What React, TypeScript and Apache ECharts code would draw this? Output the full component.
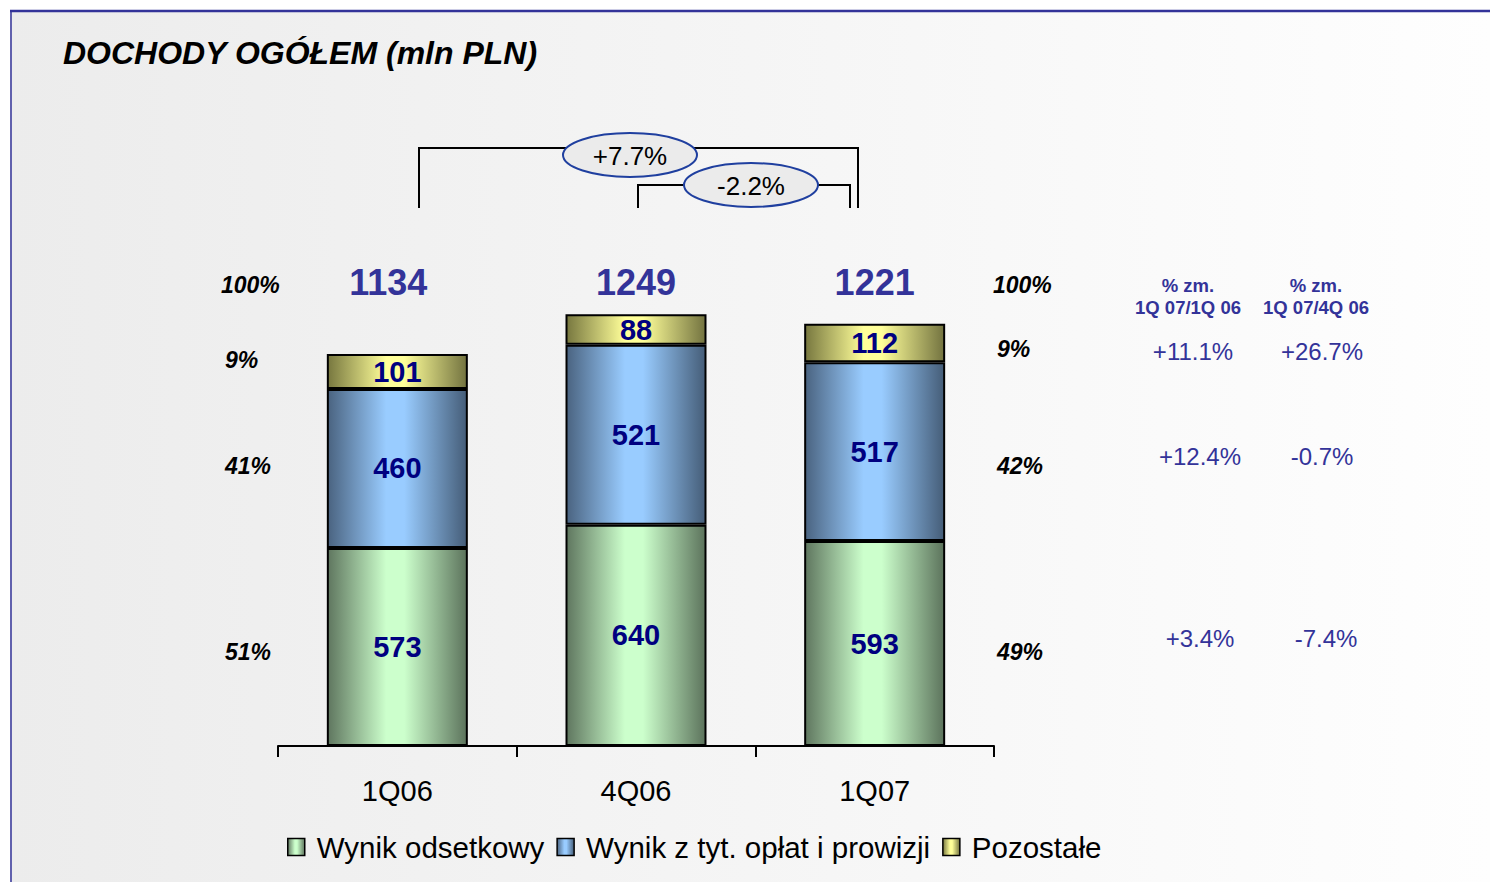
import React, { useEffect, useRef } from "react";
import * as echarts from "echarts";

const categories = ["1Q06", "4Q06", "1Q07"];
const interestIncome = [573, 640, 593];
const feeIncome = [460, 521, 517];
const otherIncome = [101, 88, 112];
const totals = [1134, 1249, 1221];
const seriesNames = ["Wynik odsetkowy", "Wynik z tyt. opłat i prowizji", "Pozostałe"];
const leftShares = ["100%", "9%", "41%", "51%"];
const rightShares = ["100%", "9%", "42%", "49%"];
const changeHeaders = ["% zm.\n1Q 07/1Q 06", "% zm.\n1Q 07/4Q 06"];
const changeVsYear = ["+11.1%", "+12.4%", "+3.4%"];
const changeVsQuarter = ["+26.7%", "-0.7%", "-7.4%"];
const totalChangeYear = "+7.7%";
const totalChangeQuarter = "-2.2%";

const FONT = "'Liberation Sans', Arial, sans-serif";

function grad(edge: string, mid: string, edge2: string) {
  return new echarts.graphic.LinearGradient(0, 0, 1, 0, [
    { offset: 0, color: edge },
    { offset: 0.42, color: mid },
    { offset: 0.55, color: mid },
    { offset: 1, color: edge2 },
  ]);
}

export default function App() {
  const ref = useRef<HTMLDivElement>(null);
  useEffect(() => {
    if (!ref.current) return;
    const chart = echarts.init(ref.current, null, { renderer: "svg" });
    const segLabel = {
      show: true,
      position: "inside",
      fontFamily: FONT,
      fontSize: 29,
      fontWeight: "bold",
      color: "#000080",
    };
    const barCommon = {
      type: "bar",
      stack: "total",
      barWidth: 141,
      label: segLabel,
      itemStyle: { borderColor: "#000", borderWidth: 2 },
    };
    const leftX = [221, 225, 225, 225];
    const leftY = [285, 360, 466, 652];
    const rightY = [285, 349, 466, 652];
    const pctStyle = {
      fontFamily: FONT,
      fontSize: 23,
      fontStyle: "italic",
      fontWeight: "bold",
      fill: "#000",
      align: "left",
      verticalAlign: "middle",
    };
    const changeStyle = {
      fontFamily: FONT,
      fontSize: 24,
      fill: "#333399",
      align: "center",
      verticalAlign: "middle",
    };
    const rowY = [351, 456, 638];
    const graphics: any[] = [
      {
        type: "rect",
        shape: { x: 10, y: 10, width: 1480, height: 872 },
        style: {
          fill: new echarts.graphic.LinearGradient(0, 0, 1, 0, [
            { offset: 0, color: "#ececec" },
            { offset: 1, color: "#fefefe" },
          ]),
        },
        z: -10,
      },
      { type: "line", shape: { x1: 10, y1: 11, x2: 1490, y2: 11 }, style: { stroke: "#333399", lineWidth: 2.5 }, z: -5 },
      { type: "line", shape: { x1: 11, y1: 10, x2: 11, y2: 882 }, style: { stroke: "#333399", lineWidth: 1.5 }, z: -5 },
      {
        type: "text",
        x: 63,
        y: 53,
        style: {
          text: "DOCHODY OGÓŁEM (mln PLN)",
          fontFamily: FONT,
          fontSize: 32,
          fontStyle: "italic",
          fontWeight: "bold",
          fill: "#000",
          verticalAlign: "middle",
        },
      },
      {
        type: "polyline",
        shape: { points: [[419, 208], [419, 148], [858, 148], [858, 208]] },
        style: { stroke: "#000", lineWidth: 2, fill: "none" },
      },
      {
        type: "polyline",
        shape: { points: [[638, 208], [638, 185], [850, 185], [850, 208]] },
        style: { stroke: "#000", lineWidth: 2, fill: "none" },
      },
      {
        type: "ellipse",
        shape: { cx: 630, cy: 155, rx: 67, ry: 22 },
        style: { fill: "#ebebeb", stroke: "#1f3f9f", lineWidth: 2 },
      },
      {
        type: "text",
        x: 630,
        y: 156,
        style: { text: totalChangeYear, fontFamily: FONT, fontSize: 26, fill: "#000", align: "center", verticalAlign: "middle" },
      },
      {
        type: "ellipse",
        shape: { cx: 751, cy: 185, rx: 67, ry: 22 },
        style: { fill: "#ebebeb", stroke: "#1f3f9f", lineWidth: 2 },
      },
      {
        type: "text",
        x: 751,
        y: 186,
        style: { text: totalChangeQuarter, fontFamily: FONT, fontSize: 26, fill: "#000", align: "center", verticalAlign: "middle" },
      },
    ];
    leftShares.forEach((t, i) => {
      graphics.push({ type: "text", x: leftX[i], y: leftY[i], style: { ...pctStyle, text: t } });
    });
    rightShares.forEach((t, i) => {
      graphics.push({ type: "text", x: i === 0 ? 993 : 997, y: rightY[i], style: { ...pctStyle, text: t } });
    });
    changeHeaders.forEach((t, i) => {
      graphics.push({
        type: "text",
        x: i === 0 ? 1188 : 1316,
        y: 296,
        style: {
          text: t,
          fontFamily: FONT,
          fontSize: 18.5,
          fontWeight: "bold",
          fill: "#333399",
          align: "center",
          verticalAlign: "middle",
          lineHeight: 22,
        },
      });
    });
    changeVsYear.forEach((t, i) => {
      graphics.push({ type: "text", x: i === 0 ? 1193 : 1200, y: rowY[i], style: { ...changeStyle, text: t } });
    });
    changeVsQuarter.forEach((t, i) => {
      graphics.push({ type: "text", x: i === 2 ? 1326 : 1322, y: rowY[i], style: { ...changeStyle, text: t } });
    });

    chart.setOption({
      animation: false,
      backgroundColor: "#ffffff",
      grid: { left: 278, right: 496, top: 193, bottom: 136 },
      xAxis: {
        type: "category",
        data: categories,
        axisLine: { lineStyle: { color: "#000", width: 2 } },
        axisTick: { show: true, length: 11, lineStyle: { color: "#000", width: 2 } },
        axisLabel: { fontFamily: FONT, fontSize: 29, color: "#000", margin: 30 },
      },
      yAxis: { type: "value", min: 0, max: 1600, show: false, splitLine: { show: false } },
      legend: {
        data: seriesNames,
        left: 282,
        top: 827,
        itemWidth: 17,
        itemHeight: 17,
        itemGap: 12,
        icon: "rect",
        itemStyle: { borderColor: "#000", borderWidth: 1.5 },
        textStyle: { fontFamily: FONT, fontSize: 29.5, color: "#000", padding: [0, 0, 0, 7] },
      },
      series: [
        {
          ...barCommon,
          name: seriesNames[0],
          data: interestIncome,
          itemStyle: { ...barCommon.itemStyle, color: grad("#5f765f", "#ccffcc", "#5c735c") },
        },
        {
          ...barCommon,
          name: seriesNames[1],
          data: feeIncome,
          itemStyle: { ...barCommon.itemStyle, color: grad("#4a6380", "#99ccff", "#455d78") },
        },
        {
          ...barCommon,
          name: seriesNames[2],
          data: otherIncome,
          itemStyle: { ...barCommon.itemStyle, color: grad("#77773f", "#ffff99", "#737340") },
        },
        {
          type: "scatter",
          name: "total",
          symbolSize: 2,
          itemStyle: { color: "rgba(0,0,0,0)", opacity: 1 },
          data: categories.map((c, i) => ({
            value: [c, 1342],
            label: { offset: [i === 0 ? -9 : 0, 0] },
          })),
          label: {
            show: true,
            position: "inside",
            formatter: (p: any) => String(totals[p.dataIndex]),
            fontFamily: FONT,
            fontSize: 36,
            fontWeight: "bold",
            color: "#333399",
            opacity: 1,
          },
          z: 10,
        },
      ],
      graphic: graphics,
    });
    return () => chart.dispose();
  }, []);
  return (
    <div
      ref={ref}
      style={{ position: "absolute", left: 0, top: 0, width: 1490, height: 882 }}
    />
  );
}
